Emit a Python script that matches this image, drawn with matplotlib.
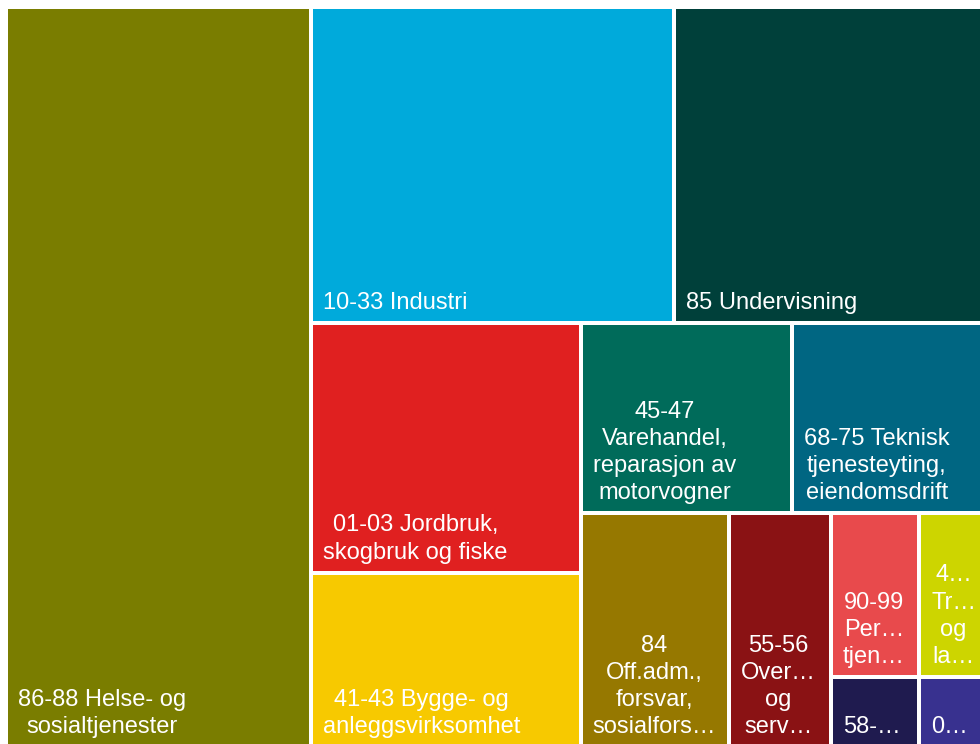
import matplotlib
matplotlib.use("Agg")
import matplotlib.pyplot as plt
from matplotlib.patches import Rectangle

# employed persons per industry
labels = [
    "86-88 Helse- og\nsosialtjenester",
    "10-33 Industri",
    "85 Undervisning",
    "01-03 Jordbruk,\nskogbruk og fiske",
    "41-43 Bygge- og\nanleggsvirksomhet",
    "45-47\nVarehandel,\nreparasjon av\nmotorvogner",
    "68-75 Teknisk\ntjenesteyting,\neiendomsdrift",
    "84\nOff.adm.,\nforsvar,\nsosialfors\u2026",
    "55-56\nOver\u2026\nog\nserv\u2026",
    "90-99\nPer\u2026\ntjen\u2026",
    "4\u2026\nTr\u2026\nog\nla\u2026",
    "58-\u2026",
    "0\u2026",
]
values = [2257, 1147, 973, 672, 470, 401, 361, 347, 238, 144, 103, 62, 44]
colors = ["#7A7D00", "#00AADB", "#00403A", "#E02020", "#F7C900", "#006B5A",
          "#006682", "#967800", "#8A1214", "#E84A4C", "#CDD500", "#1F1B4F",
          "#38318F"]

# how many boxes go in each strip of the squarified layout
groups = [1, 2, 2, 2, 1, 1, 2, 1, 1]


def strip_layout(vals, groups, x, y, w, h):
    rects = []
    total = float(sum(vals))
    i = 0
    for n in groups:
        chunk = vals[i:i + n]
        s = float(sum(chunk))
        frac = s / total
        if w >= h:
            # column on the left
            cw = w * frac
            yy = y
            for v in chunk:
                ch = h * v / s
                rects.append((x, yy, cw, ch))
                yy += ch
            x += cw
            w -= cw
        else:
            # row on the top
            rh = h * frac
            xx = x
            for v in chunk:
                cw = w * v / s
                rects.append((xx, y, cw, rh))
                xx += cw
            y += rh
            h -= rh
        total -= s
        i += n
    return rects


fig = plt.figure(figsize=(9.8, 7.44), dpi=100)
ax = fig.add_axes([0, 0, 1, 1])
ax.set_xlim(0, 980)
ax.set_ylim(744, 0)
ax.axis("off")

gap = 2
rects = strip_layout(values, groups, 6, 7, 976, 740)
for (x, y, w, h), lab, c in zip(rects, labels, colors):
    ax.add_patch(Rectangle((x + gap, y + gap), w - 2 * gap, h - 2 * gap,
                           facecolor=c, edgecolor="none"))
    ax.text(x + gap + 10, y + h - gap - 7, lab, color="white",
            family=["Liberation Sans", "DejaVu Sans"], fontsize=17,
            ha="left", va="bottom", multialignment="center",
            linespacing=1.3)

fig.savefig("out.png", dpi=100)
